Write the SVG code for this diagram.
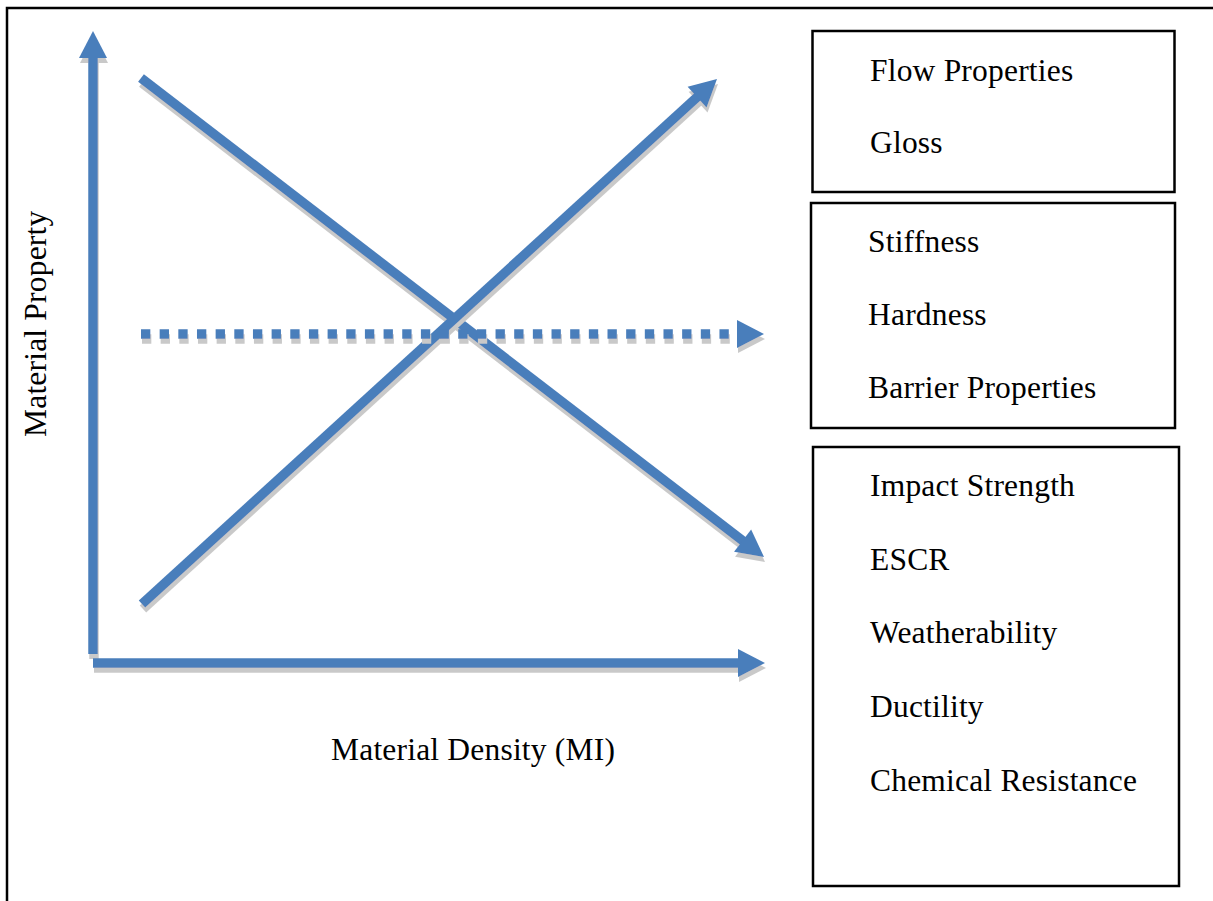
<svg xmlns="http://www.w3.org/2000/svg" width="1213" height="901" viewBox="0 0 1213 901">
<style>
.t{font-family:"Liberation Serif","Times New Roman",serif;font-size:31.5px;letter-spacing:0.2px;fill:#000}
.box{fill:#fff;stroke:#000;stroke-width:2.5}
.ax{fill:none;stroke:#4A7EBB;stroke-width:9.5;stroke-linecap:butt;filter:url(#sh)}
</style>
<defs>
<filter id="sh" filterUnits="userSpaceOnUse" x="0" y="0" width="1213" height="901">
<feOffset in="SourceAlpha" dx="1" dy="4.5" result="o"/>
<feGaussianBlur in="o" stdDeviation="0.4" result="b"/>
<feFlood flood-color="#c9c9c9"/>
<feComposite in2="b" operator="in" result="s"/>
<feMerge><feMergeNode in="s"/><feMergeNode in="SourceGraphic"/></feMerge>
</filter>
<marker id="ah" markerUnits="userSpaceOnUse" markerWidth="28" markerHeight="28" viewBox="0 0 27 28" refX="1" refY="14" orient="auto" overflow="visible">
<path d="M0,0 L27,14 L0,28 z" fill="#4A7EBB"/>
</marker>
</defs>
<rect width="1213" height="901" fill="#fff"/>
<path d="M7,901 V8 H1213" fill="none" stroke="#000" stroke-width="2.5"/>
<g id="connectors">
<line class="ax" x1="93" y1="654" x2="93" y2="57" marker-end="url(#ah)"/>
<line class="ax" x1="93" y1="663" x2="739" y2="663" marker-end="url(#ah)"/>
<line class="ax" x1="141" y1="78" x2="743.4" y2="541.2" marker-end="url(#ah)"/>
<line class="ax" x1="142" y1="604" x2="697.8" y2="96.5" marker-end="url(#ah)"/>
<line class="ax" x1="141" y1="334" x2="738" y2="334" stroke-dasharray="9.33 9.33" marker-end="url(#ah)"/>
</g>
<g id="axis-labels">
<text class="t" x="331" y="760">Material Density (MI)</text>
<text class="t" transform="translate(46,437) rotate(-90)">Material Property</text>
</g>
<g id="box-low-mi">
<rect class="box" x="812.5" y="31" width="362" height="161"/>
<text class="t" x="870" y="81">Flow Properties</text>
<text class="t" x="870" y="153">Gloss</text>
</g>
<g id="box-neutral">
<rect class="box" x="811" y="203" width="364" height="225"/>
<text class="t" x="868" y="252">Stiffness</text>
<text class="t" x="868" y="325">Hardness</text>
<text class="t" x="868" y="398">Barrier Properties</text>
</g>
<g id="box-high-mi">
<rect class="box" x="813" y="447" width="366" height="439"/>
<text class="t" x="870" y="496">Impact Strength</text>
<text class="t" x="870" y="570">ESCR</text>
<text class="t" x="870" y="643">Weatherability</text>
<text class="t" x="870" y="717">Ductility</text>
<text class="t" x="870" y="791">Chemical Resistance</text>
</g>
</svg>
